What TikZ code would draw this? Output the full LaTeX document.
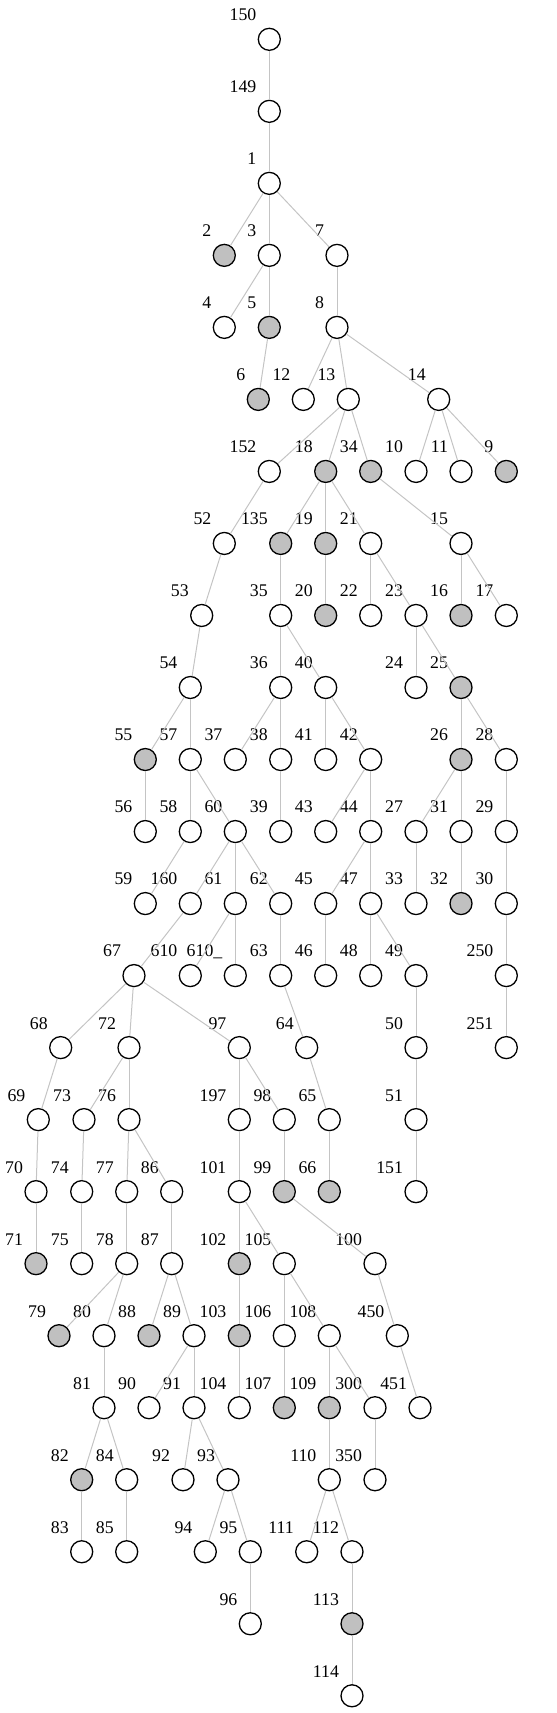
\documentclass[tikz,border=0pt]{standalone}
\usepackage{fontspec}
\setmainfont{Liberation Serif}
\definecolor{nodegray}{HTML}{C0C0C0}
\definecolor{edgegray}{HTML}{C4C4C4}
\begin{document}
\begin{tikzpicture}[x=0.5pt,y=-36.01pt,
  lab/.style={anchor=base east,inner sep=0pt,xshift=-6.3pt,yshift=9.3pt,font=\fontsize{8.9pt}{10pt}\selectfont},
  vx/.style={circle,draw,line width=0.65pt,fill=white,minimum size=11pt,inner sep=0pt,
    append after command={node[lab] at (\tikzlastnode.center) {#1}}},
  vxg/.style={vx=#1,fill=nodegray},
  edge/.style={draw=edgegray,line width=0.5pt}]
\useasboundingbox (0,-0.5457) rectangle (556,23.239);
\node[vx=150] (n150) at (269.3,0) {};
\node[vx=149] (n149) at (269.3,1) {};
\node[vx=1] (n1) at (269.3,2) {};
\node[vxg=2] (n2) at (224.3,3) {};
\node[vx=3] (n3) at (269.3,3) {};
\node[vx=7] (n7) at (337,3) {};
\node[vx=4] (n4) at (224.3,4) {};
\node[vxg=5] (n5) at (269.3,4) {};
\node[vx=8] (n8) at (337,4) {};
\node[vxg=6] (n6) at (258.3,5) {};
\node[vx=12] (n12) at (303.3,5) {};
\node[vx=13] (n13) at (348.3,5) {};
\node[vx=14] (n14) at (438.7,5) {};
\node[vx=152] (n152) at (269.3,6) {};
\node[vxg=18] (n18) at (325.7,6) {};
\node[vxg=34] (n34) at (370.7,6) {};
\node[vx=10] (n10) at (416,6) {};
\node[vx=11] (n11) at (461,6) {};
\node[vxg=9] (n9) at (506.3,6) {};
\node[vx=52] (n52) at (224.3,7) {};
\node[vxg=135] (n135) at (280.7,7) {};
\node[vxg=19] (n19) at (325.7,7) {};
\node[vx=21] (n21) at (370.7,7) {};
\node[vx=15] (n15) at (461,7) {};
\node[vx=53] (n53) at (201.7,8) {};
\node[vx=35] (n35) at (280.7,8) {};
\node[vxg=20] (n20) at (325.7,8) {};
\node[vx=22] (n22) at (370.7,8) {};
\node[vx=23] (n23) at (416,8) {};
\node[vxg=16] (n16) at (461,8) {};
\node[vx=17] (n17) at (506.3,8) {};
\node[vx=54] (n54) at (190.3,9) {};
\node[vx=36] (n36) at (280.7,9) {};
\node[vx=40] (n40) at (325.7,9) {};
\node[vx=24] (n24) at (416,9) {};
\node[vxg=25] (n25) at (461,9) {};
\node[vxg=55] (n55) at (145.3,10) {};
\node[vx=57] (n57) at (190.3,10) {};
\node[vx=37] (n37) at (235.3,10) {};
\node[vx=38] (n38) at (280.7,10) {};
\node[vx=41] (n41) at (325.7,10) {};
\node[vx=42] (n42) at (370.7,10) {};
\node[vxg=26] (n26) at (461,10) {};
\node[vx=28] (n28) at (506.3,10) {};
\node[vx=56] (n56) at (145.3,11) {};
\node[vx=58] (n58) at (190.3,11) {};
\node[vx=60] (n60) at (235.3,11) {};
\node[vx=39] (n39) at (280.7,11) {};
\node[vx=43] (n43) at (325.7,11) {};
\node[vx=44] (n44) at (370.7,11) {};
\node[vx=27] (n27) at (416,11) {};
\node[vx=31] (n31) at (461,11) {};
\node[vx=29] (n29) at (506.3,11) {};
\node[vx=59] (n59) at (145.3,12) {};
\node[vx=160] (n160) at (190.3,12) {};
\node[vx=61] (n61) at (235.3,12) {};
\node[vx=62] (n62) at (280.7,12) {};
\node[vx=45] (n45) at (325.7,12) {};
\node[vx=47] (n47) at (370.7,12) {};
\node[vx=33] (n33) at (416,12) {};
\node[vxg=32] (n32) at (461,12) {};
\node[vx=30] (n30) at (506.3,12) {};
\node[vx=67] (n67) at (134,13) {};
\node[vx=610] (n610) at (190.3,13) {};
\node[vx=610\_] (n610u) at (235.3,13) {};
\node[vx=63] (n63) at (280.7,13) {};
\node[vx=46] (n46) at (325.7,13) {};
\node[vx=48] (n48) at (370.7,13) {};
\node[vx=49] (n49) at (416,13) {};
\node[vx=250] (n250) at (506.3,13) {};
\node[vx=68] (n68) at (60.7,14) {};
\node[vx=72] (n72) at (129,14) {};
\node[vx=97] (n97) at (239.3,14) {};
\node[vx=64] (n64) at (306.7,14) {};
\node[vx=50] (n50) at (416,14) {};
\node[vx=251] (n251) at (506.3,14) {};
\node[vx=69] (n69) at (38.3,15) {};
\node[vx=73] (n73) at (84,15) {};
\node[vx=76] (n76) at (129,15) {};
\node[vx=197] (n197) at (239.3,15) {};
\node[vx=98] (n98) at (284.3,15) {};
\node[vx=65] (n65) at (329.3,15) {};
\node[vx=51] (n51) at (416,15) {};
\node[vx=70] (n70) at (36,16) {};
\node[vx=74] (n74) at (81.7,16) {};
\node[vx=77] (n77) at (126.7,16) {};
\node[vx=86] (n86) at (171.7,16) {};
\node[vx=101] (n101) at (239.3,16) {};
\node[vxg=99] (n99) at (284.3,16) {};
\node[vxg=66] (n66) at (329.3,16) {};
\node[vx=151] (n151) at (416,16) {};
\node[vxg=71] (n71) at (36,17) {};
\node[vx=75] (n75) at (81.7,17) {};
\node[vx=78] (n78) at (126.7,17) {};
\node[vx=87] (n87) at (171.7,17) {};
\node[vxg=102] (n102) at (239.3,17) {};
\node[vx=105] (n105) at (284.3,17) {};
\node[vx=100] (n100) at (375,17) {};
\node[vxg=79] (n79) at (59,18) {};
\node[vx=80] (n80) at (104,18) {};
\node[vxg=88] (n88) at (149,18) {};
\node[vx=89] (n89) at (194,18) {};
\node[vxg=103] (n103) at (239.3,18) {};
\node[vx=106] (n106) at (284.3,18) {};
\node[vx=108] (n108) at (329.3,18) {};
\node[vx=450] (n450) at (397.3,18) {};
\node[vx=81] (n81) at (104,19) {};
\node[vx=90] (n90) at (149,19) {};
\node[vx=91] (n91) at (194,19) {};
\node[vx=104] (n104) at (239.3,19) {};
\node[vxg=107] (n107) at (284.3,19) {};
\node[vxg=109] (n109) at (329.3,19) {};
\node[vx=300] (n300) at (375,19) {};
\node[vx=451] (n451) at (420,19) {};
\node[vxg=82] (n82) at (81.7,20) {};
\node[vx=84] (n84) at (126.7,20) {};
\node[vx=92] (n92) at (183,20) {};
\node[vx=93] (n93) at (228,20) {};
\node[vx=110] (n110) at (329.3,20) {};
\node[vx=350] (n350) at (375,20) {};
\node[vx=83] (n83) at (81.7,21) {};
\node[vx=85] (n85) at (126.7,21) {};
\node[vx=94] (n94) at (205.3,21) {};
\node[vx=95] (n95) at (250.3,21) {};
\node[vx=111] (n111) at (306.7,21) {};
\node[vx=112] (n112) at (352,21) {};
\node[vx=96] (n96) at (250.3,22) {};
\node[vxg=113] (n113) at (352,22) {};
\node[vx=114] (n114) at (352,23) {};
\foreach \a/\b in {150/149,149/1,1/2,1/3,1/7,3/4,3/5,7/8,5/6,8/12,8/13,8/14,
  13/152,13/18,13/34,14/10,14/11,14/9,152/52,18/135,18/19,18/21,34/15,
  52/53,135/35,19/20,21/22,21/23,15/16,15/17,53/54,35/36,35/40,23/24,23/25,
  54/55,54/57,36/37,36/38,40/41,40/42,25/26,25/28,55/56,57/58,57/60,38/39,
  42/43,42/44,26/27,26/31,28/29,58/59,60/160,60/61,60/62,44/45,44/47,27/33,
  31/32,29/30,160/67,61/610,61/610u,62/63,45/46,47/48,47/49,30/250,
  67/68,67/72,67/97,63/64,49/50,250/251,68/69,72/73,72/76,97/197,97/98,
  64/65,50/51,69/70,73/74,76/77,76/86,197/101,98/99,65/66,51/151,
  70/71,74/75,77/78,86/87,101/102,101/105,99/100,78/79,78/80,87/88,87/89,
  102/103,105/106,105/108,100/450,80/81,89/90,89/91,103/104,106/107,
  108/109,108/300,450/451,81/82,81/84,91/92,91/93,109/110,300/350,
  82/83,84/85,93/94,93/95,110/111,110/112,95/96,112/113,113/114}
  \draw[edge] (n\a) -- (n\b);
\end{tikzpicture}
\end{document}
